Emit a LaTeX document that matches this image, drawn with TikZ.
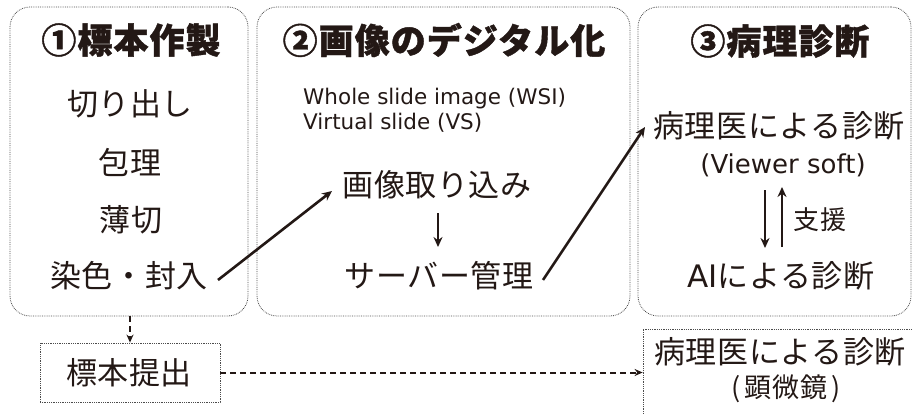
\documentclass[tikz,border=0pt]{standalone}
\usepackage{fontspec}
\usetikzlibrary{arrows.meta}
\setmainfont{Noto Sans CJK JP}
\newfontfamily\jp[LetterSpace=2]{Noto Sans CJK JP}
\newfontfamily\jpt[LetterSpace=3, BoldFeatures={FakeBold=1.2}]{Noto Sans CJK JP}
\newfontfamily\lat{DejaVu Sans}
\definecolor{ink}{HTML}{231815}
\begin{document}
\begin{tikzpicture}[x=1pt,y=-1pt,
  panel/.style={draw=gray!60!black, densely dotted, line width=0.8pt, rounded corners=20pt, inner sep=0},
  sqbox/.style={draw=gray!60!black, densely dotted, line width=0.8pt, inner sep=0},
  ttl/.style={font=\jpt\bfseries\fontsize{35}{40}\selectfont, text=ink, inner sep=0},
  item/.style={font=\jp\fontsize{31}{36}\selectfont, text=ink, inner sep=0},
  small/.style={font=\jp\fontsize{26}{30}\selectfont, text=ink, inner sep=0},
  eng/.style={font=\lat\fontsize{21.5}{26}\selectfont, text=ink, inner sep=0},
  arr/.style={draw=ink, line width=2.6pt, -{Stealth[length=10pt,width=9pt]}},
  darr/.style={draw=ink, line width=2pt, dash pattern=on 6pt off 4pt, -{Stealth[length=8pt,width=7pt]}}]
\useasboundingbox (0,0) rectangle (912,414);
% panels
\node[panel, minimum width=238pt, minimum height=309pt] (p1) at (129,161.5) {};
\node[panel, minimum width=373pt, minimum height=309pt] (p2) at (443.5,161.5) {};
\node[panel, minimum width=273pt, minimum height=309pt] (p3) at (774.5,161.5) {};
% titles
\node[ttl] (t1) at (131,40) {①標本作製};
\node[ttl] (t2) at (444,40) {②画像のデジタル化};
\node[ttl] (t3) at (780,41) {③病理診断};
% panel 1
\node[item] (cut) at (130,104) {切り出し};
\node[item] (emb) at (130,162) {包理};
\node[item] (thin) at (131,220) {薄切};
\node[item] (dye) at (129,276) {染色・封入};
% panel 2
\node[eng, anchor=base west] (wsi) at (303,105) {Whole slide image (WSI)};
\node[eng, anchor=base west] (vs2) at (303,130) {Virtual slide (VS)};
\node[item] (cap) at (437,185) {画像取り込み};
\node[item] (srv) at (439,276) {サーバー管理};
% panel 3
\node[item] (path1) at (779,126) {病理医による診断};
\node[font=\lat\fontsize{26}{30}\selectfont, text=ink, inner sep=0] (vsoft) at (783,165) {(Viewer soft)};
\node[small] (help) at (820,220) {支援};
\node[item] (ai) at (781,276) {{\lat AI}による診断};
% bottom
\node[sqbox, minimum width=180pt, minimum height=59pt] (sub) at (130,372.5) {};
\node[item] (subt) at (129,373) {標本提出};
\node[sqbox, minimum width=290pt, minimum height=110pt] (mic) at (788,384) {};
\node[item] (path2) at (780,352) {病理医による診断};
\node[font=\jp\fontsize{27}{30}\selectfont, text=ink, inner sep=0] (scope) at (786,389) {(\,顕微鏡\,)};
% connectors
\draw[arr] ([shift={(89,4)}]dye.center) -- ([shift={(-105,6)}]cap.center);
\draw[arr] ([shift={(1,28)}]cap.center) -- ([shift={(-1,-29)}]srv.center);
\draw[arr] ([shift={(104,4)}]srv.center) -- ([shift={(-134,1)}]path1.center);
\draw[arr] ([shift={(-18,25)}]vsoft.center) -- ([shift={(-16,-28)}]ai.center);
\draw[arr] ([shift={(1,-29)}]ai.center) -- ([shift={(-1,22)}]vsoft.center);
\draw[darr] (sub.north |- p1.south) -- (sub.north);
\draw[darr] (sub.east) -- (sub.east -| mic.west);
\end{tikzpicture}
\end{document}
